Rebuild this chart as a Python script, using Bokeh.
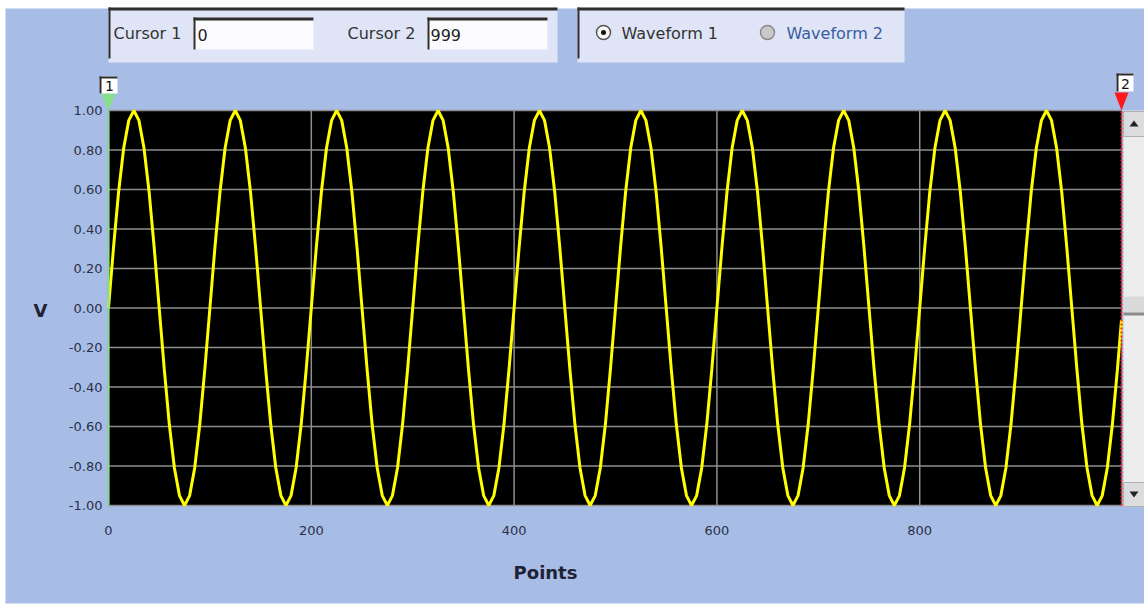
from bokeh.plotting import figure
from bokeh.models import Range1d, FixedTicker, NumeralTickFormatter, LinearAxis
from bokeh.core.properties import value
from bokeh.embed import file_html
from bokeh.resources import INLINE

# ---------------- data ----------------
points = list(range(0, 1000, 5)) + [999]
volts = [
    0.00, 0.31, 0.59, 0.81, 0.95, 1.00, 0.95, 0.81, 0.59, 0.31, 0.00, -0.31, -0.59, -0.81, -0.95, -1.00, -0.95, -0.81, -0.59, -0.31,
    0.00, 0.31, 0.59, 0.81, 0.95, 1.00, 0.95, 0.81, 0.59, 0.31, 0.00, -0.31, -0.59, -0.81, -0.95, -1.00, -0.95, -0.81, -0.59, -0.31,
    0.00, 0.31, 0.59, 0.81, 0.95, 1.00, 0.95, 0.81, 0.59, 0.31, 0.00, -0.31, -0.59, -0.81, -0.95, -1.00, -0.95, -0.81, -0.59, -0.31,
    0.00, 0.31, 0.59, 0.81, 0.95, 1.00, 0.95, 0.81, 0.59, 0.31, 0.00, -0.31, -0.59, -0.81, -0.95, -1.00, -0.95, -0.81, -0.59, -0.31,
    0.00, 0.31, 0.59, 0.81, 0.95, 1.00, 0.95, 0.81, 0.59, 0.31, 0.00, -0.31, -0.59, -0.81, -0.95, -1.00, -0.95, -0.81, -0.59, -0.31,
    0.00, 0.31, 0.59, 0.81, 0.95, 1.00, 0.95, 0.81, 0.59, 0.31, 0.00, -0.31, -0.59, -0.81, -0.95, -1.00, -0.95, -0.81, -0.59, -0.31,
    0.00, 0.31, 0.59, 0.81, 0.95, 1.00, 0.95, 0.81, 0.59, 0.31, 0.00, -0.31, -0.59, -0.81, -0.95, -1.00, -0.95, -0.81, -0.59, -0.31,
    0.00, 0.31, 0.59, 0.81, 0.95, 1.00, 0.95, 0.81, 0.59, 0.31, 0.00, -0.31, -0.59, -0.81, -0.95, -1.00, -0.95, -0.81, -0.59, -0.31,
    0.00, 0.31, 0.59, 0.81, 0.95, 1.00, 0.95, 0.81, 0.59, 0.31, 0.00, -0.31, -0.59, -0.81, -0.95, -1.00, -0.95, -0.81, -0.59, -0.31,
    0.00, 0.31, 0.59, 0.81, 0.95, 1.00, 0.95, 0.81, 0.59, 0.31, 0.00, -0.31, -0.59, -0.81, -0.95, -1.00, -0.95, -0.81, -0.59, -0.31,
    -0.06,
]
x_ticks = [0, 200, 400, 600, 800]
y_ticks = [-1.0, -0.8, -0.6, -0.4, -0.2, 0.0, 0.2, 0.4, 0.6, 0.8, 1.0]
x_min, x_max = 0, 999
y_min, y_max = -1.0, 1.0
cursor1 = 0
cursor2 = 999
x_title = "Points"
y_title = "V"
cursor_labels = ["Cursor 1", "Cursor 2"]
waveform_labels = ["Waveform 1", "Waveform 2"]

# ---------------- layout (canvas pixels) ----------------
W, H = 1144, 605
FL, FR, FT, FB = 108, 1121, 110, 505   # where the data area sits on the canvas
BG = "#a8bde6"
PANEL = "#dfe5f6"
DARK = "#2e2e2e"
TXT = "#2b3046"
FONT = "DejaVu Sans"

kx = (x_max - x_min) / (FR - FL)
ky = (y_max - y_min) / (FB - FT)
p = figure(width=W, height=H, output_backend="svg", toolbar_location=None,
           x_axis_location=None, y_axis_location=None,
           x_range=Range1d(x_min - FL * kx, x_max + (W - FR) * kx),
           y_range=Range1d(y_min - (H - FB) * ky, y_max + FT * ky),
           min_border=0)
p.min_border_left = p.min_border_right = p.min_border_top = p.min_border_bottom = 0
p.extra_x_ranges = {"px": Range1d(0, W)}
p.extra_y_ranges = {"px": Range1d(H, 0)}
p.background_fill_color = "white"
p.border_fill_color = "white"
p.outline_line_color = None
p.xgrid.visible = False
p.ygrid.visible = False

PX = dict(x_range_name="px", y_range_name="px")


def box(x0, y0, x1, y1, color, line=None):
    p.quad(left=[x0], right=[x1], top=[y0], bottom=[y1], fill_color=color,
           line_color=line, **PX)


def tri(pts, color):
    p.patch([a for a, b in pts], [b for a, b in pts], fill_color=color, line_color=None, **PX)


def text(x, y, s, size="16px", color=TXT, align="left", style="normal"):
    p.text([x], [y], text=[s], text_font=value(FONT), text_font_size=size,
           text_color=color, text_align=align, text_baseline="middle",
           text_font_style=style, **PX)


# page background
box(5, 8, 1144, 603, BG)

# black data area, grid, waveform
p.quad(left=[x_min], right=[x_max], bottom=[y_min], top=[y_max], fill_color="black", line_color=None)
p.segment(x0=x_ticks, x1=x_ticks, y0=[y_min] * len(x_ticks), y1=[y_max] * len(x_ticks),
          line_color="#8e8e8e", line_width=1.5)
p.segment(x0=[x_min] * len(y_ticks), x1=[x_max] * len(y_ticks), y0=y_ticks, y1=y_ticks,
          line_color="#8e8e8e", line_width=1.5)
p.line(points, volts, line_color="#ffff00", line_width=3)

# cursor lines
p.segment(x0=[cursor1], x1=[cursor1], y0=[y_min], y1=[y_max], line_color="#86e08a", line_width=2)
p.segment(x0=[cursor2], x1=[cursor2], y0=[y_min], y1=[y_max], line_color="#ff2020",
          line_width=2, line_dash="2 2")

# axes placed at the data edges
yax = LinearAxis(fixed_location=x_min, ticker=FixedTicker(ticks=y_ticks),
                 formatter=NumeralTickFormatter(format="0.00"))
xax = LinearAxis(fixed_location=y_min, ticker=FixedTicker(ticks=x_ticks))
for ax in (xax, yax):
    ax.axis_line_color = None
    ax.major_tick_line_color = None
    ax.minor_tick_line_color = None
    ax.major_tick_in = 0
    ax.major_tick_out = 0
    ax.major_label_text_font = FONT
    ax.major_label_text_font_size = "13px"
    ax.major_label_text_color = TXT
yax.major_label_standoff = 6
xax.major_label_standoff = 20
p.add_layout(yax, "left")
p.add_layout(xax, "below")

# axis titles
text(40, 310, y_title, size="18px", color="#1f2235", align="center", style="bold")
text(545, 572, x_title, size="18px", color="#1f2235", align="center", style="bold")

# top control panels
box(108, 7, 557, 62, PANEL)
box(108, 7, 557, 10, DARK)
box(108, 7, 110, 58, DARK)
box(193, 17, 313, 49, "#fbfbfd")
box(193, 17, 313, 20, DARK)
box(193, 17, 195, 49, DARK)
box(427, 17, 547, 49, "#fbfbfd")
box(427, 17, 547, 20, DARK)
box(427, 17, 429, 49, DARK)
text(113, 33, cursor_labels[0], color="#333333")
text(197, 34, str(cursor1), color="#222222")
text(347, 33, cursor_labels[1], color="#333333")
text(430, 34, str(cursor2), color="#222222")

box(577, 7, 904, 62, PANEL)
box(577, 7, 904, 10, DARK)
box(577, 7, 579, 58, DARK)
text(621, 33, waveform_labels[0], color="#333333")
text(786, 33, waveform_labels[1], color="#3a5da0")
p.scatter([603], [32], size=14, marker="circle", fill_color="#f6f6f6", line_color="#555555",
          line_width=1.5, **PX)
p.scatter([603], [32], size=5, marker="circle", fill_color="#111111", line_color=None, **PX)
p.scatter([767], [32], size=14, marker="circle", fill_color="#c9c9c9", line_color="#8a8a8a",
          line_width=1.5, **PX)

# cursor markers (positioned from the cursor values)
c1x = FL + (cursor1 - x_min) / kx
c2x = FL + (cursor2 - x_min) / kx
tri([(c1x - 7, 93), (c1x + 7, 93), (c1x, 110)], "#86e08a")
box(c1x - 9, 76, c1x + 9, 93, "#ffffff")
box(c1x - 9, 76, c1x + 9, 78, DARK)
box(c1x - 9, 76, c1x - 7, 93, DARK)
text(c1x + 1, 85, "1", size="14px", color="#111111", align="center")
tri([(c2x - 7, 92), (c2x + 7, 92), (c2x, 110)], "#ff1a1a")
box(c2x - 5, 73, c2x + 12, 91, "#ffffff")
box(c2x - 5, 73, c2x + 12, 75, DARK)
box(c2x - 5, 73, c2x - 3, 91, DARK)
text(c2x + 4, 83, "2", size="14px", color="#111111", align="center")

# scrollbar
box(1123, 110, 1144, 506, "#ededed")
box(1123, 296, 1144, 312, "#dadada")
box(1123, 111, 1144, 136, "#dcdcdc", line="#b0b0b0")
box(1123, 482, 1144, 506, "#dcdcdc", line="#b0b0b0")
box(1123, 312, 1144, 315, "#8a8a8a")
tri([(1129, 126), (1138, 126), (1133.5, 120)], "#222222")
tri([(1129, 491), (1138, 491), (1133.5, 497)], "#222222")

open("out.html", "w").write(file_html(p, INLINE))
